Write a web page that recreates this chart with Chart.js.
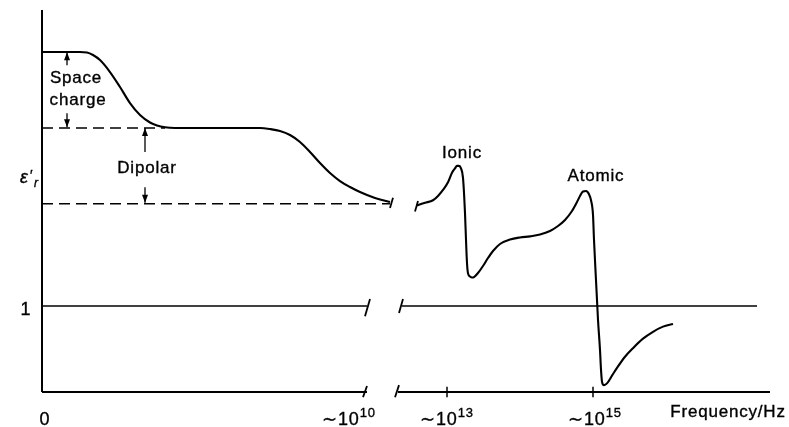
<!DOCTYPE html>
<html><head><meta charset="utf-8">
<script src="https://cdn.jsdelivr.net/npm/chart.js@4/dist/chart.umd.min.js"></script>
<style>html,body{margin:0;padding:0;background:#fff;}canvas{display:block;}</style>
</head><body>
<canvas id="c" width="789" height="427"></canvas>
<script>
// Units: x = position along the (broken) frequency axis, y = relative permittivity ε'r
const X_MAX = 73, Y_MAX = 4.442;

// Space-charge + dipolar relaxation curve (low frequency part)
const lowFreqCurve = [[0,3.953],[3.8,3.953],[4.5,3.948],[5.1,3.919],[5.8,3.86],[6.8,3.721],[7.8,3.547],[8.8,3.36],[9.8,3.221],[10.8,3.134],[11.5,3.099],[12.3,3.078],[13.3,3.07],[21.8,3.07],[22.8,3.058],[23.8,3.035],[24.8,2.988],[25.8,2.907],[26.8,2.791],[27.8,2.663],[28.8,2.547],[29.8,2.453],[30.8,2.384],[31.8,2.326],[33.3,2.256],[34.8,2.209]];

// Ionic + atomic resonance curve (high frequency part)
const highFreqCurve = [[37.5,2.17],[38.3,2.20],[39.1,2.23],[39.6,2.28],[40.1,2.35],[40.6,2.44],[41.0,2.55],[41.3,2.60],[41.5,2.63],[41.7,2.63],[41.9,2.60],[42.1,2.49],[42.3,2.08],[42.4,1.77],[42.5,1.50],[42.6,1.38],[42.8,1.343],[43.0,1.331],[43.2,1.337],[43.6,1.384],[44.1,1.465],[44.6,1.558],[45.1,1.64],[45.8,1.721],[46.8,1.773],[47.8,1.797],[48.8,1.81],[49.8,1.831],[50.8,1.872],[51.6,1.93],[52.3,2.0],[53.0,2.105],[53.5,2.209],[53.8,2.279],[54.1,2.331],[54.4,2.337],[54.7,2.30],[54.9,2.23],[55.1,2.06],[55.2,1.77],[55.4,1.30],[55.5,1.07],[55.6,0.84],[55.8,0.49],[55.9,0.26],[56.0,0.12],[56.2,0.08],[56.5,0.10],[57.0,0.19],[57.5,0.28],[58.3,0.41],[59.1,0.51],[60.1,0.62],[61.1,0.70],[62.1,0.76],[63.1,0.79]];

// Dashed reference levels [level, end x]
const dashedLevels = [[3.07, 12.3],[2.19, 34.8]];
// ε'r = 1 line segments
const unityLine = [[0, 32.5],[36.0, 71.5]];
// frequency axis segments
const freqAxis = [[0, 32.5],[35.6, 72.8]];
// break marks [x1,y1,x2,y2]
const breakMarks = [[32.1,-0.06,32.5,0.07],[35.3,-0.06,35.7,0.08],[32.3,0.88,32.8,1.08],[35.7,0.92,36.1,1.08],[34.8,2.14,35.1,2.26],[37.3,2.10,37.6,2.22]];
// frequency tick positions
const freqTicks = [40.5, 55.1];
// tick labels: ~10^n
const freqExponents = ['10','13','15'];
const freqLabelX = [30.7, 40.5, 55.3];
// arrows [x, tail, tip]
const arrows = [[2.5,3.80,3.95],[2.5,3.24,3.08],[10.3,2.79,3.07],[10.3,2.38,2.20]];
// annotation texts [text, x, y]
const annotations = [['Space',3.4,3.593],['charge',3.6,3.343],['Dipolar',10.5,2.547],['Ionic',42.0,2.721],['Atomic',55.4,2.453],['Frequency/Hz',68.6,-0.291]];

const pts = a => a.map(p => ({x:p[0], y:p[1]}));
const seg = (x1,y1,x2,y2) => [{x:x1,y:y1},{x:x2,y:y2}];
const base = {borderColor:'#000', pointRadius:0, showLine:true, fill:false, clip:false, borderWidth:2};

const datasets = [];
datasets.push({...base, data: pts(lowFreqCurve), cubicInterpolationMode:'monotone', borderWidth:2.1});
datasets.push({...base, data: pts(highFreqCurve), cubicInterpolationMode:'monotone', borderWidth:2.1});
dashedLevels.forEach(([lv,end]) => datasets.push({...base, data: seg(0,lv,end,lv), borderDash:[11,6], borderWidth:1.5}));
unityLine.forEach(([a,b]) => datasets.push({...base, data: seg(a,1,b,1), borderWidth:1.5}));
freqAxis.forEach(([a,b]) => datasets.push({...base, data: seg(a,0,b,0), borderWidth:2}));
datasets.push({...base, data: seg(0,0,0,Y_MAX), borderWidth:2});
breakMarks.forEach(b => datasets.push({...base, data: seg(...b), borderWidth:1.8}));
freqTicks.forEach(t => datasets.push({...base, data: seg(t,-0.06,t,0.06), borderWidth:1.5}));
arrows.forEach(([x,tail,tip]) => datasets.push({...base, data: seg(x,tail,x,tip), borderWidth:1.3}));

const FONT = '"Liberation Sans", Arial, Helvetica, sans-serif';
function txt(ctx, t, x, y){ ctx.fillText(t, x, y); ctx.strokeText(t, x, y); }
const annotPlugin = {
  id:'annot',
  afterDatasetsDraw(chart){
    const {ctx} = chart, sx = chart.scales.x, sy = chart.scales.y;
    const px = v => sx.getPixelForValue(v), py = v => sy.getPixelForValue(v);
    ctx.save();
    ctx.fillStyle = '#000';
    ctx.strokeStyle = '#000';
    ctx.lineWidth = 0.35;
    // arrowheads
    arrows.forEach(([x,tail,tip]) => {
      const tx = px(x), ty = py(tip), d = Math.sign(py(tip) - py(tail));
      ctx.beginPath();
      ctx.moveTo(tx, ty);
      ctx.lineTo(tx - 3, ty - d*8);
      ctx.lineTo(tx + 3, ty - d*8);
      ctx.closePath(); ctx.fill();
    });
    ctx.textBaseline = 'alphabetic';
    try { ctx.letterSpacing = '0.8px'; } catch(e) {}
    ctx.font = '17px ' + FONT;
    ctx.textAlign = 'center';
    annotations.forEach(([t,x,y]) => txt(ctx, t, px(x), py(y)));
    // axis labels
    ctx.font = '18px ' + FONT;
    txt(ctx, '0', px(0.3), py(-0.384));
    txt(ctx, '1', px(-1.6), py(0.895));
    // frequency tick labels
    ctx.textAlign = 'left';
    freqExponents.forEach((e,i) => {
      ctx.font = '18px ' + FONT;
      const b = '\u223C10';
      const wb = ctx.measureText(b).width;
      ctx.font = '13px ' + FONT;
      const we = ctx.measureText(e).width;
      const x0 = px(freqLabelX[i]) - (wb + we)/2, yb = py(-0.384);
      ctx.font = '18px ' + FONT;
      txt(ctx, b, x0, yb);
      ctx.font = '13px ' + FONT;
      txt(ctx, e, x0 + wb, yb - 8);
    });
    // ε'r label
    const ex = px(-2.2), ey = py(2.43);
    ctx.font = 'italic 18px ' + FONT;
    txt(ctx, '\u03B5', ex, ey);
    ctx.font = '14px ' + FONT;
    txt(ctx, '\u2032', ex + 10, ey - 3);
    ctx.font = 'italic 12px ' + FONT;
    txt(ctx, 'r', ex + 14, ey + 4);
    ctx.restore();
  }
};

new Chart(document.getElementById('c'), {
  type:'scatter',
  data:{datasets},
  options:{
    responsive:false, animation:false, devicePixelRatio:1, events:[],
    layout:{padding:{left:42, right:17, top:10, bottom:35}},
    scales:{
      x:{type:'linear', min:0, max:X_MAX, display:false},
      y:{type:'linear', min:0, max:Y_MAX, display:false}
    },
    plugins:{legend:{display:false}, tooltip:{enabled:false}}
  },
  plugins:[annotPlugin]
});
</script>
</body></html>
